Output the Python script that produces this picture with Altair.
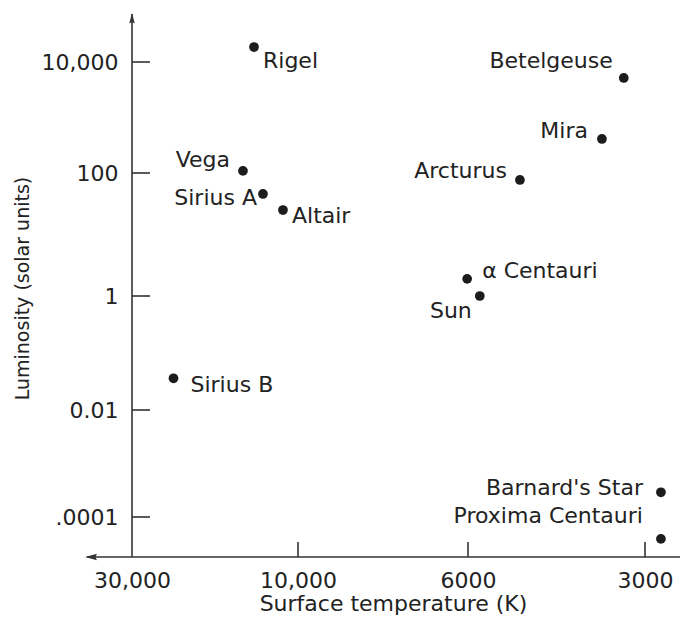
import altair as alt
import pandas as pd

# ---- data ----
STARS = ["Rigel", "Betelgeuse", "Mira", "Vega", "Arcturus", "Sirius A", "Altair",
         "α Centauri", "Sun", "Sirius B", "Barnard's Star", "Proxima Centauri"]
TEMPERATURE = [15300, 3360, 3730, 16630, 5120, 14220, 11810, 6020, 5800, 25000, 2730, 2730]
LUMINOSITY = [18600, 5150, 410, 109, 77, 45.6, 25, 1.9, 1.0, 0.036, 0.00029, 0.000039]

X_TICKS = [30000, 10000, 6000, 3000]
X_TICK_LABELS = ["30,000", "10,000", "6000", "3000"]
Y_TICKS = [10000, 100, 1, 0.01, 0.0001]
Y_TICK_LABELS = ["10,000", "100", "1", "0.01", ".0001"]

# ---- layout ----
W, H = 548, 545
FONT = "DejaVu Sans"
INK = "#222222"

LABEL_PLACEMENT = {
    "Rigel": ("left", 9, 21),
    "Betelgeuse": ("right", -11, -10),
    "Mira": ("right", -14, -1),
    "Vega": ("right", -13, -4),
    "Arcturus": ("right", -13, -2),
    "Sirius A": ("right", -6, 11),
    "Altair": ("left", 9, 13),
    "α Centauri": ("left", 15, -1),
    "Sun": ("right", -8, 22),
    "Sirius B": ("left", 17, 14),
    "Barnard's Star": ("right", -18, 3),
    "Proxima Centauri": ("right", -18, -16),
}

df = pd.DataFrame({"star": STARS, "temperature": TEMPERATURE, "luminosity": LUMINOSITY})


def label_expr(values, labels):
    expr = "''"
    for v, l in zip(values, labels):
        expr = f"datum.value == {v} ? '{l}' : (" + expr + ")"
    return expr


x_scale = alt.Scale(type="linear", domain=X_TICKS, range=[0, 166, 336, 513],
                    nice=False, zero=False)
y_scale = alt.Scale(type="log", domain=list(reversed(Y_TICKS)),
                    range=[505, 398, 284, 161, 50], nice=False)

x_axis = alt.Axis(values=X_TICKS, labelExpr=label_expr(X_TICKS, X_TICK_LABELS),
                  domain=False, ticks=False, tickSize=0, grid=False,
                  labelPadding=13, labelFont=FONT, labelFontSize=22, labelColor=INK,
                  labelFlush=False, labelOverlap=False, labelBaseline="top",
                  title="Surface temperature (K)", titleFont=FONT, titleFontSize=22,
                  titleFontWeight="normal", titleColor=INK, titleX=261, titleY=53,
                  titleBaseline="alphabetic", titleAlign="center")
y_axis = alt.Axis(values=Y_TICKS, labelExpr=label_expr(Y_TICKS, Y_TICK_LABELS),
                  domain=False, ticks=False, tickSize=0, grid=False,
                  labelPadding=14, labelFont=FONT, labelFontSize=22, labelColor=INK,
                  labelFlush=False, labelOverlap=False, labelAlign="right",
                  labelBaseline="middle",
                  title="Luminosity (solar units)", titleFont=FONT, titleFontSize=19,
                  titleFontWeight="normal", titleColor=INK, titleAngle=270,
                  titleX=-110, titleY=276, titleBaseline="middle", titleAlign="center")


def X(field):
    return alt.X(field, type="quantitative", scale=x_scale, axis=x_axis)


def Y(field):
    return alt.Y(field, type="quantitative", scale=y_scale, axis=y_axis)


base = alt.Chart(df)

points = base.mark_circle(size=95, color="#1c1c1c", opacity=1).encode(
    x=X("temperature"), y=Y("luminosity"))

labels = []
for name, (align, dx, dy) in LABEL_PLACEMENT.items():
    labels.append(
        base.transform_filter(alt.FieldEqualPredicate(field="star", equal=name))
        .mark_text(align=align, baseline="alphabetic", dx=dx, dy=dy, font=FONT,
                   fontSize=22, color=INK)
        .encode(x=X("temperature"), y=Y("luminosity"), text="star:N")
    )

one = pd.DataFrame({"a": [0]})
line_style = dict(color="#333333", strokeWidth=1.6)
y_line = alt.Chart(one).mark_rule(**line_style).encode(
    x=alt.value(0), y=alt.value(2), y2=alt.value(H))
x_line = alt.Chart(one).mark_rule(**line_style).encode(
    x=alt.value(-45), x2=alt.value(W), y=alt.value(H))

up_arrow = alt.Chart(one).mark_point(
    shape="M0,-1L0.4,0.5L0,0.3L-0.4,0.5Z", filled=True, size=196, color="#333333",
    opacity=1).encode(x=alt.value(0), y=alt.value(8))
left_arrow = alt.Chart(one).mark_point(
    shape="M-1,0L0.5,-0.4L0.3,0L0.5,0.4Z", filled=True, size=256, color="#333333",
    opacity=1).encode(x=alt.value(-39), y=alt.value(H))

y_tick_df = pd.DataFrame({"v": Y_TICKS})
x_tick_df = pd.DataFrame({"v": X_TICKS[1:]})
y_ticks = alt.Chart(y_tick_df).mark_rule(**line_style).encode(
    y=Y("v"), x=alt.value(0), x2=alt.value(18))
x_ticks = alt.Chart(x_tick_df).mark_rule(**line_style).encode(
    x=X("v"), y=alt.value(H - 15), y2=alt.value(H))

chart = alt.layer(points, *labels, y_line, x_line, up_arrow, left_arrow, y_ticks, x_ticks).properties(
    width=W, height=H,
    background="white",
    autosize=alt.AutoSizeParams(type="none"),
    padding={"left": 124, "top": 4, "right": 0, "bottom": 58},
).configure_view(stroke=None)

chart.save("out.html", embed_options={"renderer": "svg", "actions": False})
